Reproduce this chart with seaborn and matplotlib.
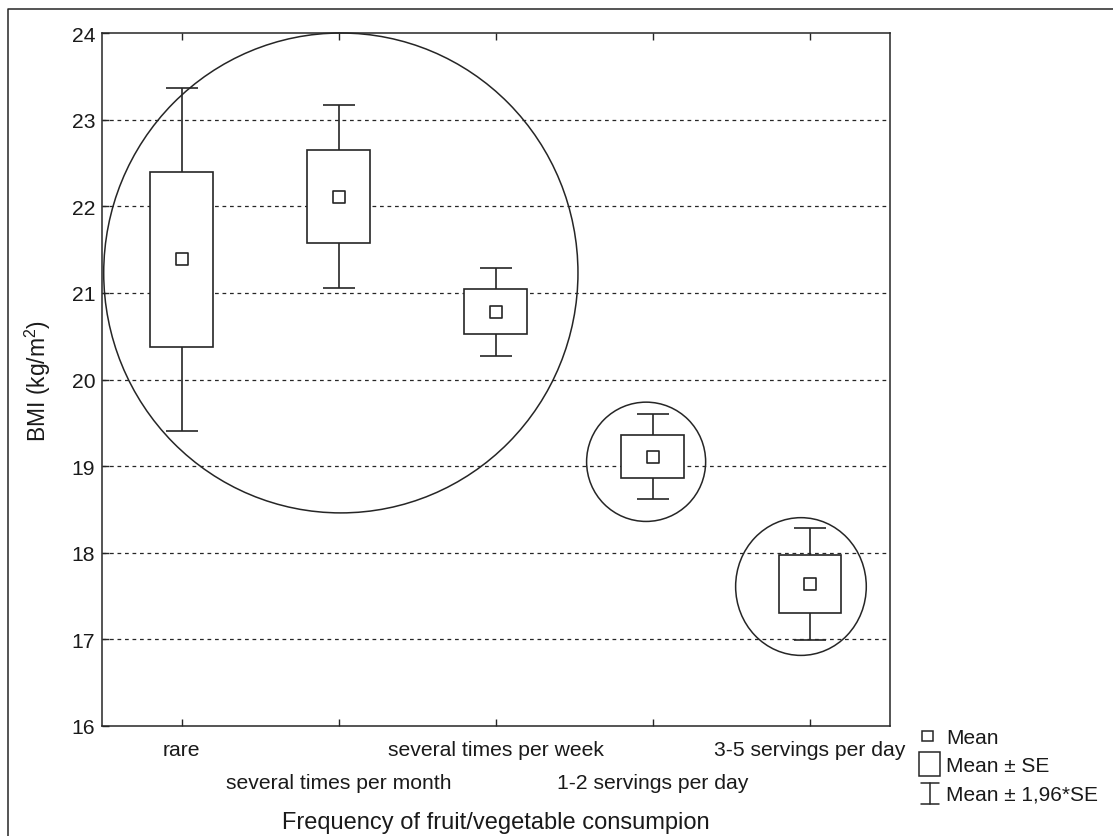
import numpy as np
import pandas as pd
import matplotlib
matplotlib.use("Agg")
import matplotlib.pyplot as plt
import seaborn as sns
from matplotlib.patches import Ellipse, Rectangle
from matplotlib.lines import Line2D
from matplotlib.ticker import FixedLocator, FixedFormatter

# BMI by frequency of fruit/vegetable consumption
categories = ["rare", "several times per month", "several times per week",
              "1-2 servings per day", "3-5 servings per day"]
bmi_mean = [21.39, 22.11, 20.78, 19.11, 17.64]
bmi_se = [1.01, 0.54, 0.26, 0.25, 0.33]
y_ticks = [16, 17, 18, 19, 20, 21, 22, 23, 24]

sns.set_theme(style="white")
plt.rcParams["font.family"] = ["Liberation Sans", "DejaVu Sans"]
plt.rcParams["mathtext.fontset"] = "custom"
plt.rcParams["mathtext.rm"] = "Liberation Sans"
plt.rcParams["mathtext.it"] = "Liberation Sans:italic"

INK = "#262626"
TXT = "#1a1a1a"
W, H = 1113, 837

df = pd.DataFrame({"group": categories, "mean": bmi_mean, "se": bmi_se})
df["pos"] = np.arange(len(df))
df["ci"] = 1.96 * df["se"]

fig = plt.figure(figsize=(W / 100, H / 100), dpi=100)
ax = fig.add_axes([102.3 / W, 1 - 727 / H, (890 - 102.3) / W, (727 - 34) / H])


def fpx(x, y):
    return x / W, 1 - y / H


# dotted horizontal grid
for yv in y_ticks[1:-1]:
    ax.axhline(yv, color=INK, lw=0.9, ls=(0, (3, 3)), zorder=1)

# whiskers: mean +/- 1.96*SE
ax.errorbar(df["pos"], df["mean"], yerr=df["ci"], fmt="none", ecolor=INK,
            elinewidth=1.2, capsize=11.5, capthick=1.2, zorder=2)
# boxes: mean +/- SE
ax.bar(df["pos"], 2 * df["se"], bottom=df["mean"] - df["se"], width=0.4,
       color="white", edgecolor=INK, linewidth=1.2, zorder=3)
# mean markers
sns.scatterplot(data=df, x="pos", y="mean", marker="s", s=85, color="white",
                edgecolor=INK, linewidth=1.2, ax=ax, zorder=4, legend=False)

# grouping circles
for (cx, cy, w, h) in [(1.013, 21.23, 3.02, 5.54),
                       (2.957, 19.05, 0.758, 1.377),
                       (3.943, 17.61, 0.832, 1.59)]:
    ax.add_patch(Ellipse((cx, cy), w, h, fill=False, ec=INK, lw=1.1,
                         zorder=5, clip_on=False))

ax.set_xlim(-0.506, 4.51)
ax.set_ylim(16, 24)
ax.set_yticks(y_ticks)
ax.set_yticklabels([str(v) for v in y_ticks])

# staggered category labels
ax.xaxis.set_major_locator(FixedLocator([0, 2, 4]))
ax.xaxis.set_major_formatter(FixedFormatter([categories[0], categories[2], categories[4]]))
ax.xaxis.set_minor_locator(FixedLocator([1, 3]))
ax.xaxis.set_minor_formatter(FixedFormatter([categories[1], categories[3]]))

ax.tick_params(axis="both", which="both", direction="in", color=INK, width=1.0,
               length=5, labelsize=15.2, labelcolor=TXT)
ax.tick_params(axis="x", which="both", top=True, bottom=True)
ax.tick_params(axis="y", left=True, right=False, pad=5)
ax.tick_params(axis="x", which="major", pad=10)
ax.tick_params(axis="x", which="minor", pad=34)

for s in ax.spines.values():
    s.set_color(INK)
    s.set_linewidth(1.1)

ax.set_xlabel("Frequency of fruit/vegetable consumpion", fontsize=17, color=TXT)
ax.xaxis.set_label_coords(0.5, -0.122)
ax.set_ylabel("BMI (kg/m$^2$)", fontsize=16.5, color=TXT)
ax.yaxis.set_label_coords(-0.063, 0.5)

# legend
fig.add_artist(Rectangle(fpx(922, 742), 11 / W, 10 / H, transform=fig.transFigure,
                         fill=False, ec=INK, lw=1.1))
fig.add_artist(Rectangle(fpx(919, 777), 21 / W, 24 / H, transform=fig.transFigure,
                         fill=False, ec=INK, lw=1.1))
fig.add_artist(Line2D([fpx(930, 784)[0]] * 2, [fpx(0, 784)[1], fpx(0, 805)[1]],
                      transform=fig.transFigure, color=INK, lw=1.1))
for yy in (784, 805):
    fig.add_artist(Line2D([fpx(921, 0)[0], fpx(939, 0)[0]], [fpx(0, yy)[1]] * 2,
                          transform=fig.transFigure, color=INK, lw=1.1))
for txt, yy in [("Mean", 739), ("Mean \u00b1 SE", 767), ("Mean \u00b1 1,96*SE", 795)]:
    fig.text(*fpx(946, yy), txt, fontsize=15, va="center", ha="left", color=TXT)

# outer frame
fig.add_artist(Line2D([fpx(8, 0)[0], fpx(8, 0)[0], 1.01],
                      [-0.01, fpx(0, 10)[1], fpx(0, 10)[1]],
                      transform=fig.transFigure, color=INK, lw=1.1))

fig.savefig("out.png", dpi=100, facecolor="white")
